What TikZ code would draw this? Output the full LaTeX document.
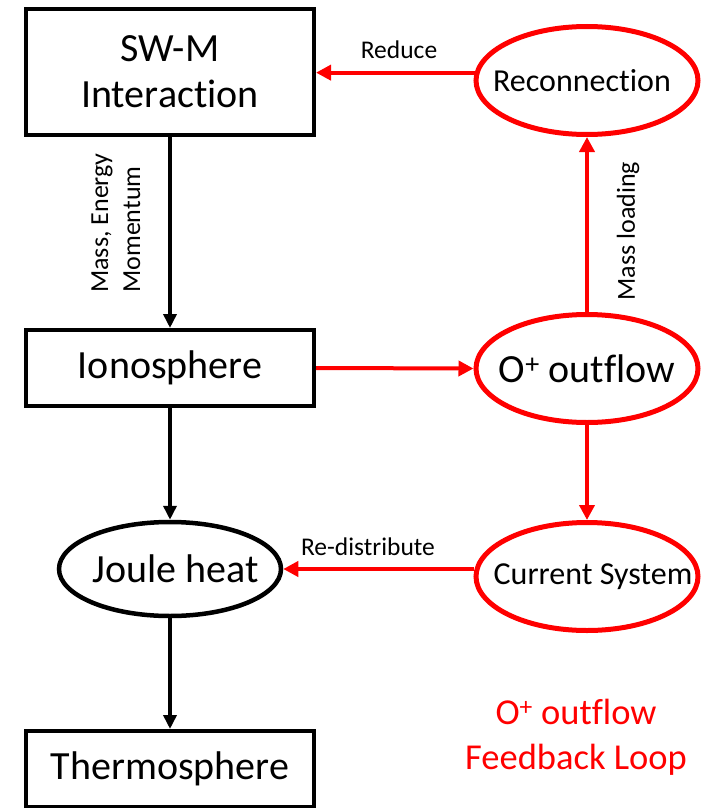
\documentclass[tikz,border=0pt]{standalone}
\usepackage{fontspec}
\setmainfont{Carlito}[Ligatures=CommonOff]
\usetikzlibrary{arrows.meta,shapes.geometric}
\definecolor{fred}{RGB}{255,0,0}
\newcommand\fbig{\fontsize{40pt}{46pt}\selectfont}
\newcommand\fmid{\fontsize{32pt}{36pt}\selectfont}
\newcommand\flab{\fontsize{25.5pt}{32pt}\selectfont}
\newcommand\fnote{\fontsize{36.5pt}{45pt}\selectfont}
\begin{document}
\begin{tikzpicture}[x=1pt,y=-1pt,
  box/.style={draw=black,line width=4pt,rectangle,minimum width=288pt,minimum height=76pt,inner sep=0pt,align=center,font=\fbig},
  ell/.style={draw=#1,ellipse,minimum width=222pt,minimum height=108pt,inner sep=0pt},
  blk/.style={-{Triangle[length=14pt,width=13pt]},line width=4pt,draw=black},
  rarr/.style={-{Triangle[length=15pt,width=15pt]},line width=4pt,draw=fred},
  lab/.style={font=\flab,inner sep=0pt}
]
\useasboundingbox (0,0) rectangle (708,808);
\clip (0,0) rectangle (708,808);

% left column
\node[box,minimum height=126pt] (swm) at (170,72) {SW-M\\Interaction};
\node[box] (iono) at (170,368) {Ionosphere};
\node[ell=black,line width=4.5pt,minimum width=222pt,minimum height=94pt,font=\fbig] (joule) at (170,569) {\makebox[0pt]{\hspace*{12pt}Joule heat}};
\node[box] (thermo) at (170,769) {Thermosphere};

% right column
\node[ell=fred,line width=5pt,font=\fmid] (recon) at (587,80.5) {\makebox[0pt]{\hspace*{-10pt}Reconnection}};
\node[ell=fred,line width=5pt,font=\fbig] (outflow) at (587,368.5) {\makebox[0pt]{O\textsuperscript{+} outflow}};
\node[ell=fred,line width=5pt,font=\fmid] (current) at (587,576.5) {\makebox[0pt]{\hspace*{12pt}Current System}};

% black arrows
\draw[blk] (swm.south) -- (iono.north);
\draw[blk] (iono.south) -- (joule.north);
\draw[blk] (joule.south) -- (thermo.north);

% red arrows
\draw[rarr] (recon.176) -- (recon.176 -| swm.east);
\draw[rarr] (outflow.north) -- (recon.south);
\draw[rarr] (iono.east) -- (outflow.west);
\draw[rarr] (outflow.south) -- (current.north);
\draw[rarr] (current.west |- joule.east) -- (joule.east);

% labels
\node[lab] (lreduce) at (399,50) {Reduce};
\node[lab] (lredist) at (368,547) {Re-distribute};
\node[lab,font=\fontsize{26pt}{32pt}\selectfont,rotate=90] (lmassload) at (628,231) {Mass loading};
\node[lab,font=\fontsize{26pt}{32pt}\selectfont,rotate=90,align=left] (lmass) at (116,223) {Mass, Energy\\Momentum};

% feedback loop note
\node[font=\fnote,text=fred,align=center,inner sep=0pt] (note) at (576,737) {O\textsuperscript{+} outflow\\Feedback Loop};
\end{tikzpicture}
\end{document}
